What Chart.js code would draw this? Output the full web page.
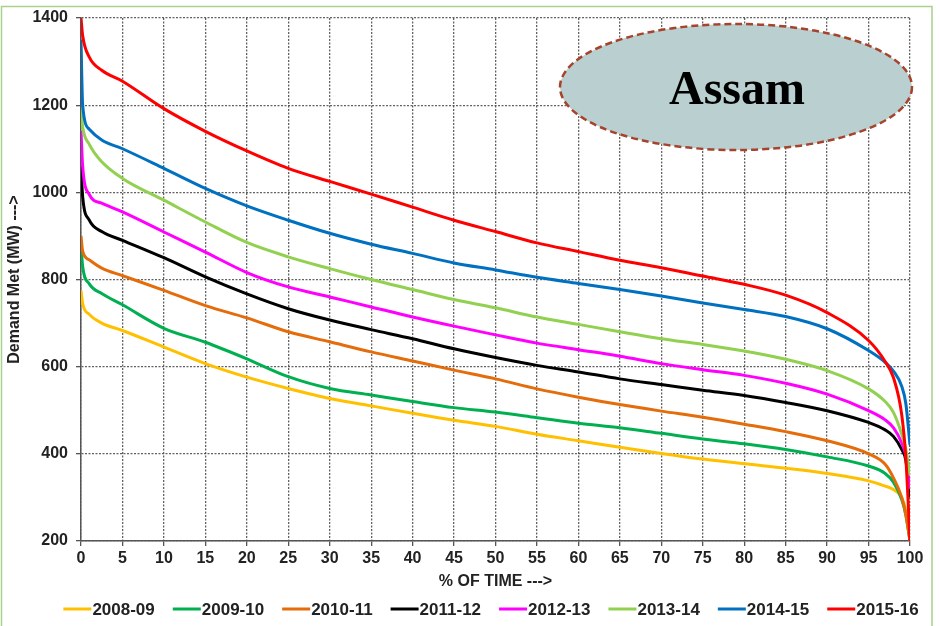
<!DOCTYPE html>
<html>
<head>
<meta charset="utf-8">
<title>Assam – Load Duration Curves</title>
<script src="https://cdn.jsdelivr.net/npm/chart.js@4/dist/chart.umd.min.js"></script>
<style>
  html, body { margin: 0; padding: 0; background: #ffffff; }
  #wrap { position: relative; width: 940px; height: 626px; }
  canvas { display: block; }
</style>
</head>
<body>
<div id="wrap"><canvas id="ldc" width="940" height="626"></canvas></div>
<script>
// Percentage of time (x) at which each demand value is sampled
const pctOfTime = [0, 0.2, 1, 2.5, 5, 10, 15, 20, 25, 30, 35, 40, 45, 50, 55, 60, 65, 70, 75, 80, 85, 90, 95, 97, 98, 99, 99.5, 100];

// Demand met (MW) for each year, aligned with pctOfTime
const demand0809 = [775, 745, 720, 700, 683, 645, 607, 576, 550, 527, 510, 493, 477, 463, 445, 430, 415, 401, 388, 377, 367, 355, 338, 326, 318, 300, 270, 200];
const demand0910 = [880, 830, 790, 768, 742, 688, 656, 618, 577, 550, 535, 520, 506, 496, 483, 470, 460, 447, 434, 423, 410, 393, 372, 355, 335, 295, 260, 200];
const demand1011 = [900, 865, 845, 826, 809, 775, 740, 712, 680, 657, 634, 613, 592, 572, 549, 530, 513, 498, 484, 468, 451, 430, 400, 376, 345, 300, 260, 200];
const demand1112 = [1060, 990, 936, 910, 890, 850, 806, 767, 733, 707, 685, 664, 641, 621, 603, 588, 572, 559, 546, 534, 518, 499, 472, 455, 440, 410, 385, 300];
const demand1213 = [1140, 1060, 995, 975, 955, 909, 863, 816, 783, 760, 737, 714, 693, 673, 654, 639, 624, 607, 593, 580, 562, 537, 499, 478, 460, 425, 395, 320];
const demand1314 = [1190, 1150, 1110, 1070, 1032, 982, 932, 885, 852, 825, 800, 777, 754, 735, 714, 697, 680, 664, 651, 636, 617, 591, 549, 520, 495, 445, 410, 350];
const demand1415 = [1350, 1200, 1145, 1120, 1100, 1055, 1009, 969, 936, 906, 881, 860, 838, 822, 805, 791, 777, 762, 746, 731, 715, 687, 637, 610, 590, 555, 515, 420];
const demand1516 = [1400, 1360, 1310, 1280, 1255, 1192, 1140, 1095, 1055, 1025, 996, 966, 936, 910, 884, 864, 844, 827, 808, 789, 764, 724, 660, 612, 575, 490, 390, 200];

const yearLabels = ['2008-09', '2009-10', '2010-11', '2011-12', '2012-13', '2013-14', '2014-15', '2015-16'];
const yearColors = ['#FFC000', '#00B050', '#E46C0A', '#000000', '#FF00FF', '#92D050', '#0070C0', '#FF0000'];
const yearSeries = [demand0809, demand0910, demand1011, demand1112, demand1213, demand1314, demand1415, demand1516];

const yTicks = [200, 400, 600, 800, 1000, 1200, 1400];
const xTickStep = 5;
const stateName = 'Assam';

const FONT = "'Liberation Sans', Arial, Helvetica, sans-serif";
Chart.defaults.font.family = FONT;
Chart.defaults.color = '#222222';

const datasets = yearSeries.map((values, i) => ({
  label: yearLabels[i],
  data: pctOfTime.map((x, k) => ({ x: x, y: values[k] })),
  borderColor: yearColors[i],
  backgroundColor: yearColors[i],
  borderWidth: 3,
  pointRadius: 0,
  pointHoverRadius: 0,
  fill: false,
  cubicInterpolationMode: 'monotone',
  order: yearSeries.length - i
}));

// White page with a thin green frame
const framePlugin = {
  id: 'frame',
  beforeDraw(chart) {
    const ctx = chart.ctx;
    ctx.save();
    ctx.fillStyle = '#ffffff';
    ctx.fillRect(0, 0, chart.width, chart.height);
    ctx.strokeStyle = '#A9D18E';
    ctx.lineWidth = 1.5;
    ctx.strokeRect(1.5, 6.5, 930.5, 640);
    ctx.restore();
  }
};

// Oval badge with the state name
const badgePlugin = {
  id: 'badge',
  afterDatasetsDraw(chart) {
    const ctx = chart.ctx;
    const cx = 736, cy = 87, rx = 176, ry = 63;
    ctx.save();
    ctx.beginPath();
    ctx.ellipse(cx, cy, rx, ry, 0, 0, Math.PI * 2);
    ctx.fillStyle = '#BACFCF';
    ctx.fill();
    ctx.setLineDash([7, 4]);
    ctx.lineWidth = 2.5;
    ctx.strokeStyle = '#A5432C';
    ctx.stroke();
    ctx.setLineDash([]);
    ctx.fillStyle = '#000000';
    ctx.font = "bold 48px 'Liberation Serif', 'Times New Roman', serif";
    ctx.textAlign = 'center';
    ctx.textBaseline = 'alphabetic';
    ctx.fillText(stateName, cx + 1, 104);
    ctx.restore();
  }
};

// Single-row legend: short coloured line followed by the year
const legendRowPlugin = {
  id: 'legendRow',
  afterDraw(chart) {
    const ctx = chart.ctx;
    const lineLen = 28, textGap = 1, itemGap = 18, y = 609;
    ctx.save();
    ctx.font = 'bold 17px ' + FONT;
    ctx.textBaseline = 'middle';
    ctx.textAlign = 'left';
    const items = chart.data.datasets.map(ds => ({
      label: ds.label, color: ds.borderColor,
      w: lineLen + textGap + ctx.measureText(ds.label).width
    }));
    const total = items.reduce((s, it) => s + it.w, 0) + itemGap * (items.length - 1);
    let x = 491 - total / 2;
    items.forEach(it => {
      ctx.strokeStyle = it.color;
      ctx.lineWidth = 3;
      ctx.beginPath();
      ctx.moveTo(x, y);
      ctx.lineTo(x + lineLen, y);
      ctx.stroke();
      ctx.fillStyle = '#222222';
      ctx.fillText(it.label, x + lineLen + textGap, y + 1);
      x += it.w + itemGap;
    });
    ctx.restore();
  }
};

const gridStyle = {
  color: 'rgba(70,70,70,0.85)',
  lineWidth: 1.3,
  tickLength: 5,
  tickColor: '#555555'
};

new Chart(document.getElementById('ldc'), {
  type: 'line',
  data: { datasets: datasets },
  options: {
    responsive: false,
    animation: false,
    devicePixelRatio: 1,
    layout: { padding: { top: 18, right: 30, left: 0, bottom: 35 } },
    plugins: {
      legend: { display: false },
      tooltip: { enabled: false }
    },
    scales: {
      x: {
        type: 'linear',
        min: 0,
        max: 100,
        ticks: {
          stepSize: xTickStep,
          padding: 3,
          maxRotation: 0,
          autoSkip: false,
          font: { size: 16, weight: 'bold' },
          color: '#222222',
          callback: v => String(v)
        },
        grid: gridStyle,
        border: { display: true, color: '#555555', width: 1.5, dash: [2, 1.5] },
        title: {
          display: true,
          text: '% OF TIME --->',
          font: { size: 16, weight: 'bold' },
          color: '#222222',
          padding: { top: 0, bottom: 0 }
        },
        afterFit(scale) { scale.height = 50; }
      },
      y: {
        type: 'linear',
        min: yTicks[0],
        max: yTicks[yTicks.length - 1],
        afterBuildTicks(scale) { scale.ticks = yTicks.map(v => ({ value: v })); },
        ticks: {
          padding: 8,
          font: { size: 16, weight: 'bold' },
          color: '#222222',
          callback: v => String(v)
        },
        grid: gridStyle,
        border: { display: true, color: '#555555', width: 1.5, dash: [2, 1.5] },
        title: {
          display: true,
          text: 'Demand Met (MW) --->',
          font: { size: 16, weight: 'bold' },
          color: '#222222',
          padding: { top: 5, bottom: 0 }
        },
        afterFit(scale) { scale.width = 81; }
      }
    }
  },
  plugins: [framePlugin, badgePlugin, legendRowPlugin]
});
</script>
</body>
</html>
